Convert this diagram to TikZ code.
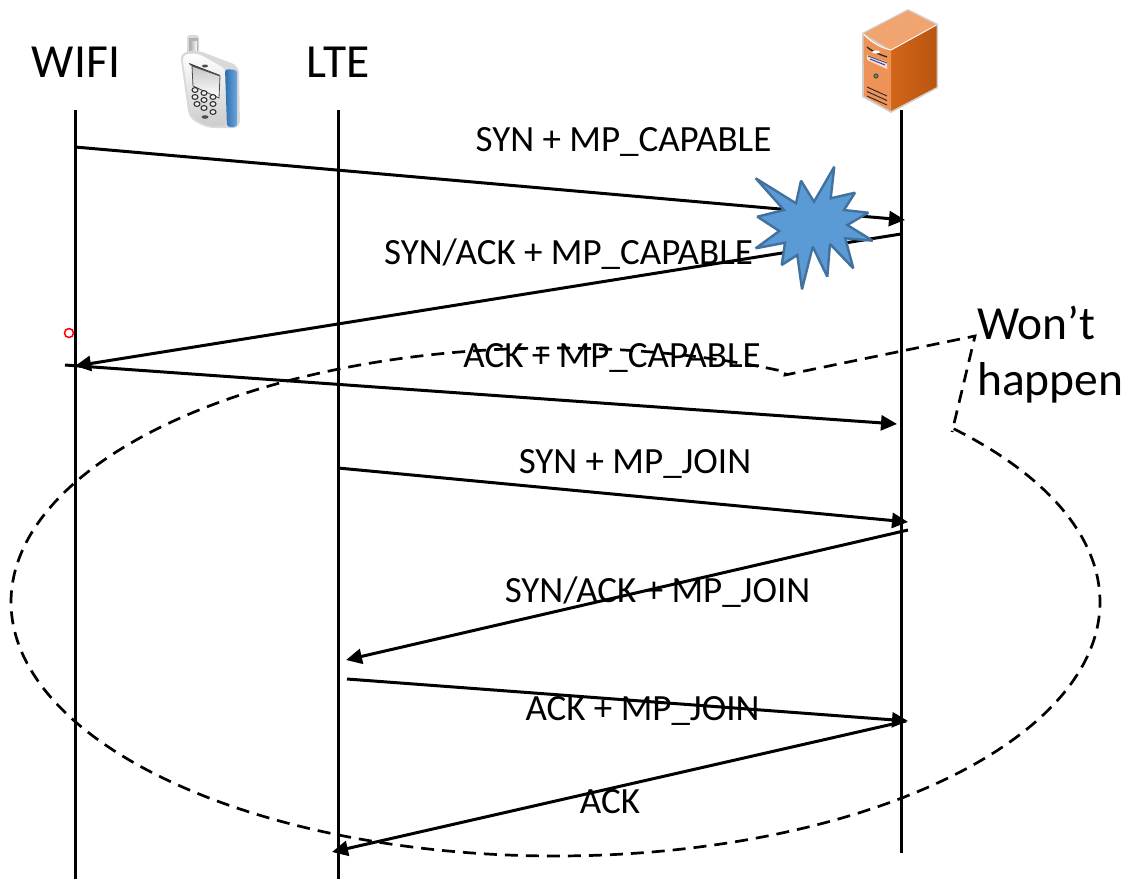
\documentclass[tikz,border=0pt]{standalone}
\usepackage{fontspec}
\setmainfont{Carlito}
\usetikzlibrary{arrows.meta}
\definecolor{starfill}{HTML}{5B9BD5}
\definecolor{starline}{HTML}{41719C}
\definecolor{srvtop}{HTML}{F0A570}
\definecolor{srvfront}{HTML}{EE9358}
\definecolor{srvsideA}{HTML}{D2651A}
\definecolor{srvsideB}{HTML}{B9560F}
\definecolor{srvedge}{HTML}{D4D0CC}
\definecolor{phblueA}{HTML}{2F6FB0}
\definecolor{phblueB}{HTML}{6BA6DC}
\tikzset{
  x=1pt,y=-1pt,
  life/.style={line width=3pt,black},
  msg/.style={line width=3pt,black,-{Triangle[length=16pt,width=15pt]}},
  lbl/.style={font=\fontsize{37}{40}\selectfont,inner sep=0pt,anchor=center,text=black},
  head/.style={font=\fontsize{47.5}{50}\selectfont,inner sep=0pt,text=black},
  callout/.style={line width=2.7pt,black,dash pattern=on 13pt off 8pt},
}
\begin{document}
\begin{tikzpicture}
\useasboundingbox (0,0) rectangle (1130,879);
% lifeline ends
\coordinate (wt) at (75,110); \coordinate (wb) at (75,879);
\coordinate (lt) at (338,110); \coordinate (lb) at (338,879);
\coordinate (st) at (901,110); \coordinate (sb) at (901,853);
\draw[life] (wt) -- (wb);
\draw[life] (lt) -- (lb);
\draw[life] (st) -- (sb);
% message ends
\coordinate (a1) at (75,147);  \coordinate (b1) at (905,220);
\coordinate (a2) at (901,234); \coordinate (b2) at (75,366);
\coordinate (a3) at (65,365);  \coordinate (b3) at (897,424);
\coordinate (a4) at (338,468); \coordinate (b4) at (908,522);
\coordinate (a5) at (908,530); \coordinate (b5) at (346,660);
\coordinate (a6) at (347,679); \coordinate (b6) at (908,721);
\coordinate (a7) at (906,721); \coordinate (b7) at (332,852);
\foreach \n in {1,...,7}{\draw[msg] (a\n) -- (b\n);}
% callout
\draw[callout,line join=miter]
  plot[domain=43:-295,samples=240,smooth] ({555.5+544.5*cos(\x)},{602-254*sin(\x)})
  -- (785,375) -- (975,336) -- (952,432);
% labels
\node[lbl] (m1) at (623.5,142) {SYN + MP\_CAPABLE};
\node[lbl] (m2) at (568.5,254) {SYN/ACK + MP\_CAPABLE};
\node[lbl] (m3) at (612,358) {ACK + MP\_CAPABLE};
\node[lbl] (m4) at (635,464) {SYN + MP\_JOIN};
\node[lbl] (m5) at (657.5,592) {SYN/ACK + MP\_JOIN};
\node[lbl] (m6) at (642.5,711) {ACK + MP\_JOIN};
\node[lbl] (m7) at (610,802) {ACK};
\node[head] (wifi) at (76,62) {WIFI};
\node[head] (lte) at (338,62) {LTE};
\node[head,anchor=west] (w1) at (977,323) {Won’t};
\node[head,anchor=west] (w2) at (977,383) {happen};
% red handle
\draw[red,line width=1.5pt] (69,333) circle (4.5);
% star
\filldraw[fill=starfill,draw=starline,line width=2.4pt,miter limit=2]
 (755.7,178.3) -- (796,203.3) -- (801,180.7) -- (814,201.7) -- (834.3,166.7) -- (830.7,198.3)
 -- (855,192.7) -- (844,210) -- (868.3,212.7) -- (847.3,225) -- (872.7,240.7) -- (845.3,238.3)
 -- (853.3,268.3) -- (830,244) -- (827.3,276.7) -- (812.7,246.7) -- (802,289.3) -- (797.3,255)
 -- (781.7,265) -- (785,242.7) -- (755.7,248.3) -- (779.3,231) -- (757.3,216.7) -- (784,210) -- cycle;
% phone
\begin{scope}
 \fill[gray!30,rounded corners=3pt] (187,35) -- (199,35) -- (199,54) -- (187,58) -- cycle;
 \shade[left color=gray!70,right color=white,draw=gray!60,line width=.6pt] (189.5,38) rectangle (197,55);
 \fill[black!30] (189.5,38) rectangle (197,41);
 \fill[gray!30,rounded corners=7pt] (180,53) -- (197,50) -- (239,66) -- (240,128) -- (207,128) -- (189,118) -- cycle;
 \shade[top color=white,bottom color=gray!40,rounded corners=6pt] (182,55) -- (197,53) -- (226,69) -- (227,126) -- (207,126) -- (191,116) -- cycle;
 \shade[left color=phblueA,right color=phblueB,rounded corners=3pt] (225,69) -- (237,70) -- (237,127) -- (227,127) -- cycle;
 \fill[black!75] (189,63) -- (220,75) -- (219,77) -- (190,65) -- cycle;
 \shade[top color=gray!45,bottom color=white,draw=black!70,line width=.8pt] (192,66) -- (220,76) -- (219,98) -- (193,86) -- cycle;
 \fill[black!70] (205,66) ellipse (3 and 1.5);
 \fill[black!70] (205,117) ellipse (3.5 and 1.8);
 \foreach \px/\py in {195/90, 204/93, 213/97, 195/97, 204/100, 213/104, 197/104, 204/108, 213/112}{
   \draw[black!85,fill=gray!15,line width=1pt] (\px,\py) ellipse (3 and 2.4);
 }
\end{scope}
% server
\begin{scope}
 \fill[srvedge] (862,33) -- (908,9) -- (938,24) -- (938,88) -- (891,113) -- (862,97) -- cycle;
 \fill[srvtop] (863.5,33.5) -- (908,10.5) -- (936.5,25) -- (891,50) -- cycle;
 \shade[left color=srvsideA,right color=srvsideB] (891,50) -- (936.5,25) -- (936.5,87) -- (891,111) -- cycle;
 \fill[srvfront] (863.5,35) .. controls (872,43) and (881,48) .. (891,50) -- (891,111) -- (864,96) -- cycle;
 \draw[white,line width=.9pt] (863.5,34) .. controls (872,43) and (881,48) .. (891,50) -- (936.5,25);
 \draw[black!85,line width=1.3pt] (867,47) .. controls (873,52) and (881,55) .. (887,57);
 \fill[white] (876,52) ellipse (4 and 1.6);
 \fill[white!70!srvfront] (867,55) -- (887,62) -- (887,69) -- (867,60) -- cycle;
 \draw[black!70,line width=.9pt] (868,56) -- (887,63);
 \draw[blue!60!gray,line width=1pt] (870,59) -- (885,65);
 \fill[black!70] (876,76) circle (2.6);
 \fill[green!40!gray] (876,76) circle (1.4);
 \foreach \dy in {0,4.5,9}{
   \draw[black!85,line width=.9pt] (867,87+\dy) -- (887,96+\dy);
 }
\end{scope}
\end{tikzpicture}
\end{document}
